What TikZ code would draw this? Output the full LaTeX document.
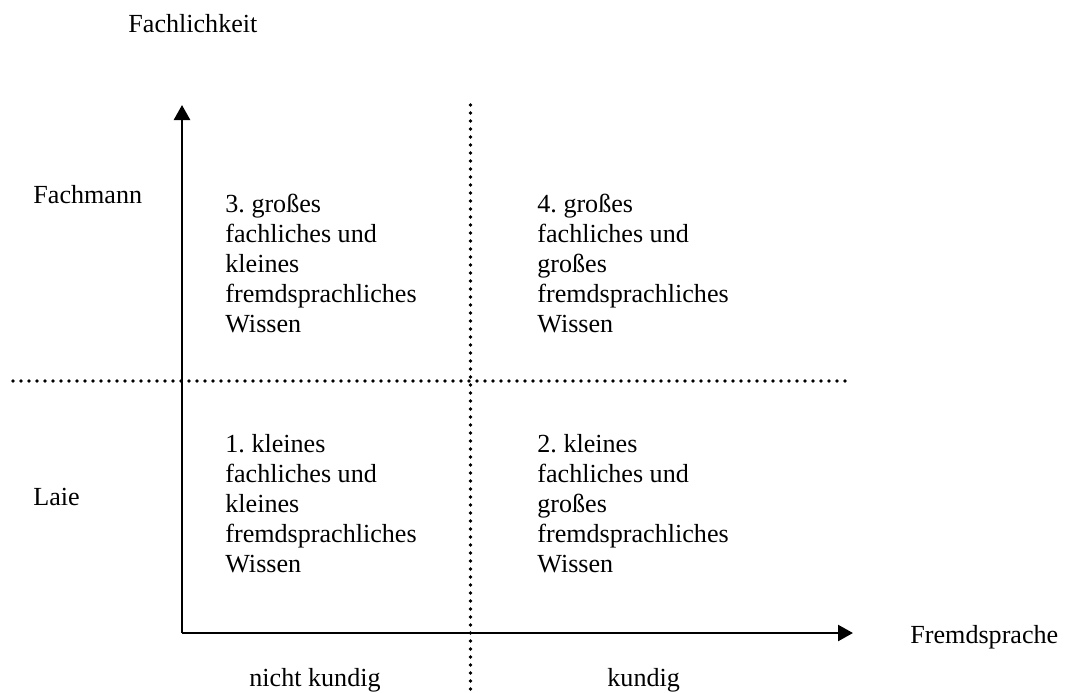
\documentclass[tikz,border=0pt]{standalone}
\usepackage{fontspec}
\setmainfont{Liberation Serif}
\frenchspacing
\usetikzlibrary{arrows.meta}
\tikzset{
  axis/.style={line width=1.25pt, -{Triangle[length=7.5pt,width=8pt]}},
  dotline/.style={line width=1.8pt, dash pattern=on 0pt off 4pt, line cap=round},
  lbl/.style={anchor=base west, inner sep=0pt, align=left,
    font=\fontsize{13.05pt}{15pt}\selectfont},
}
\begin{document}
\begin{tikzpicture}[x=0.5pt,y=-0.5pt]
\useasboundingbox (0,0) rectangle (1066,692);
% coordinates
\coordinate (O) at (182,633);
\coordinate (ytip) at (182,105);
\coordinate (xtip) at (853,633);
\coordinate (hL) at (13,381);
\coordinate (hR) at (846,381);
\coordinate (vT) at (470.5,105);
\coordinate (vB) at (470.5,705);
% dotted dividers
\draw[dotline] (hL) -- (hR);
\draw[dotline] (vT) -- (vB);
% axes
\draw[axis] (O) -- (ytip);
\draw[axis] (O) -- (xtip);
% labels
\node[lbl] (fach) at (128,32) {Fachlichkeit};
\node[lbl] (fmann) at (33,203) {Fachmann};
\node[lbl] (laie) at (33,505) {Laie};
\node[lbl] (fremd) at (910,643) {Fremdsprache};
\node[lbl] (nk) at (249,686) {nicht kundig};
\node[lbl] (k) at (607,686) {kundig};
% quadrants (base anchor = last line's baseline; first line at 212 / 452)
\node[lbl] (q3) at (225,332) {3. großes\\fachliches und\\kleines\\fremdsprachliches\\Wissen};
\node[lbl] (q4) at (537,332) {4. großes\\fachliches und\\großes\\fremdsprachliches\\Wissen};
\node[lbl] (q1) at (225,572) {1. kleines\\fachliches und\\kleines\\fremdsprachliches\\Wissen};
\node[lbl] (q2) at (537,572) {2. kleines\\fachliches und\\großes\\fremdsprachliches\\Wissen};
\end{tikzpicture}
\end{document}
